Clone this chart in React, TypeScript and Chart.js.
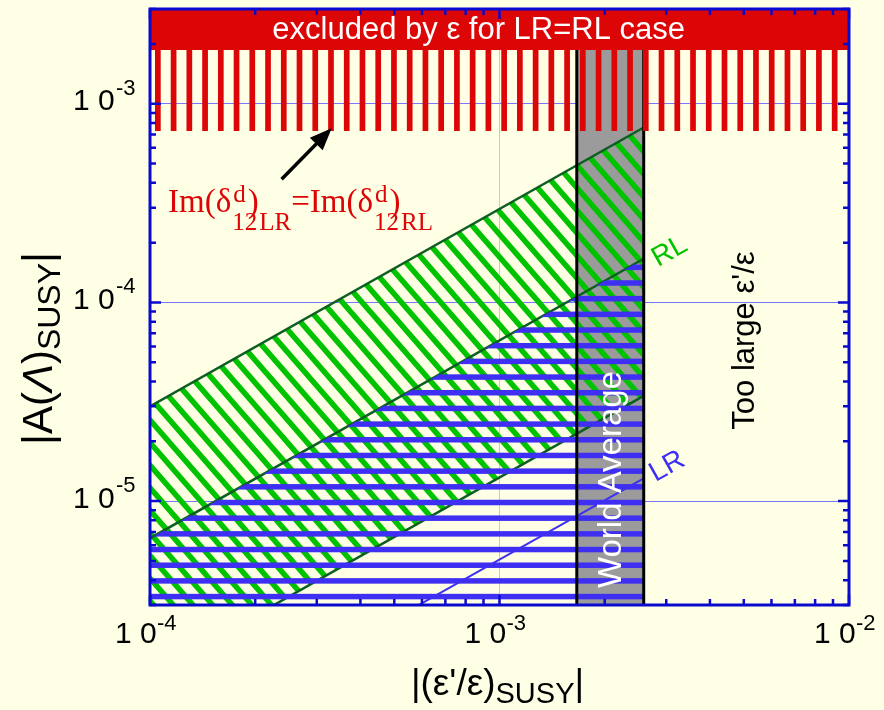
import React, { useEffect, useRef } from 'react';
import { Chart, registerables } from 'chart.js';

Chart.register(...registerables);

const WIDTH = 884;
const HEIGHT = 710;
const PAGE_BG = '#FFFFE6';
const SANS = '"Liberation Sans", Arial, Helvetica, sans-serif';
const SERIF = '"Liberation Serif", "Times New Roman", Times, serif';

const RED = '#DD0606';
const GREEN = '#00C300';
const DARK_GREEN = '#0C5E22';
const BLUE = '#3F2FF2';
const FRAME = '#0A0ACF';
const GRAY = '#9B9B9B';

// axis ranges
const X_MIN = 1e-4;
const X_MAX = 1e-2;
const Y_MIN = 3e-6;
const Y_MAX = 3e-3;
const xLabelValues = [1e-4, 1e-3, 1e-2];
const yLabelValues = [1e-5, 1e-4, 1e-3];

// region excluded by epsilon (solid above, striped below)
const excludedX = [1e-4, 1e-2];
const excludedSolidY = 1.866e-3;
const excludedStripedY = 7.29e-4;

// world average of eps'/eps
const worldAverageX = [1.664e-3, 2.586e-3];

// band edges: |A(Lambda)| at both ends of the x span
const bandX = [1e-4, 2.586e-3];
const rlUpper = [3.0e-5, 7.6e-4];
const rlMiddle = [6.5e-6, 1.66e-4];
const rlLower = [1.33e-6, 3.39e-5];
const lrLine = [5.2e-7, 1.3e-5];

// arrow pointing at the excluded region
const arrowTail = { x: 2.38e-4, y: 4.17e-4 };
const arrowHead = { x: 3.31e-4, y: 7.53e-4 };

// text anchors (data coordinates)
const excludedTextAt = { x: 8.72e-4, y: 2.12e-3 };
const formulaAt = { x: 1.126e-4, y: 2.85e-4 };
const rlLabelAt = { x: 3.07e-3, y: 1.8e-4 };
const lrLabelAt = { x: 3.02e-3, y: 1.49e-5 };
const tooLargeAt = { x: 5.35e-3, y: 6.43e-5 };
const worldAvgAt = { x: 2.227e-3, y: 1.284e-5 };

const isDecade = (v: number) => Math.abs(Math.log10(v) - Math.round(Math.log10(v))) < 1e-9;

function logTicks(min: number, max: number): number[] {
  const out: number[] = [];
  for (let e = Math.floor(Math.log10(min)); e <= Math.ceil(Math.log10(max)); e++) {
    for (let m = 1; m <= 9; m++) {
      const v = m * Math.pow(10, e);
      if (v >= min * (1 - 1e-9) && v <= max * (1 + 1e-9)) out.push(v);
    }
  }
  return out;
}

function makePattern(draw: (c: CanvasRenderingContext2D) => void): CanvasPattern {
  const cv = document.createElement('canvas');
  cv.width = WIDTH;
  cv.height = HEIGHT;
  const c = cv.getContext('2d')!;
  draw(c);
  return c.createPattern(cv, 'repeat')!;
}

type Run = { text: string; font: string; dy: number };

function drawRuns(ctx: CanvasRenderingContext2D, runs: Run[], x: number, y: number, center: boolean) {
  let total = 0;
  for (const r of runs) {
    ctx.font = r.font;
    total += ctx.measureText(r.text).width;
  }
  let cx = center ? x - total / 2 : x;
  ctx.textAlign = 'left';
  for (const r of runs) {
    ctx.font = r.font;
    ctx.fillText(r.text, cx, y + r.dy);
    cx += ctx.measureText(r.text).width;
  }
}

const overlayPlugin = {
  id: 'frameTicksText',
  afterDatasetsDraw(chart: any) {
    const { ctx, chartArea: a } = chart;
    const xs = chart.scales.x;
    const ys = chart.scales.y;
    const P = (p: { x: number; y: number }) => ({ x: xs.getPixelForValue(p.x), y: ys.getPixelForValue(p.y) });

    ctx.save();
    // inward tick marks on all four sides
    ctx.strokeStyle = FRAME;
    ctx.lineWidth = 2.5;
    ctx.beginPath();
    for (const t of xs.ticks) {
      const px = xs.getPixelForValue(t.value);
      const len = isDecade(t.value) ? 10 : 6;
      ctx.moveTo(px, a.bottom);
      ctx.lineTo(px, a.bottom - len);
      ctx.moveTo(px, a.top);
      ctx.lineTo(px, a.top + len);
    }
    for (const t of ys.ticks) {
      const py = ys.getPixelForValue(t.value);
      const len = isDecade(t.value) ? 11 : 6;
      ctx.moveTo(a.left, py);
      ctx.lineTo(a.left + len, py);
      ctx.moveTo(a.right, py);
      ctx.lineTo(a.right - len, py);
    }
    ctx.stroke();
    ctx.lineWidth = 3;
    ctx.strokeRect(a.left, a.top, a.right - a.left, a.bottom - a.top);

    // arrow
    const t0 = P(arrowTail);
    const t1 = P(arrowHead);
    const ang = Math.atan2(t1.y - t0.y, t1.x - t0.x);
    const headLen = 22;
    const headHalf = 9;
    const bx = t1.x - headLen * Math.cos(ang);
    const by = t1.y - headLen * Math.sin(ang);
    ctx.strokeStyle = '#000';
    ctx.fillStyle = '#000';
    ctx.lineWidth = 3.5;
    ctx.beginPath();
    ctx.moveTo(t0.x, t0.y);
    ctx.lineTo(bx + 2 * Math.cos(ang), by + 2 * Math.sin(ang));
    ctx.stroke();
    ctx.beginPath();
    ctx.moveTo(t1.x, t1.y);
    ctx.lineTo(bx - headHalf * Math.sin(ang), by + headHalf * Math.cos(ang));
    ctx.lineTo(bx + headHalf * Math.sin(ang), by - headHalf * Math.cos(ang));
    ctx.closePath();
    ctx.fill();

    ctx.textBaseline = 'alphabetic';

    // banner text
    const ex = P(excludedTextAt);
    ctx.fillStyle = '#FFFFFF';
    ctx.font = `31px ${SANS}`;
    ctx.textAlign = 'center';
    ctx.fillText('excluded by ε for LR=RL case', ex.x, ex.y);

    // Im(delta^d_12)_LR = Im(delta^d_12)_RL
    const f = P(formulaAt);
    ctx.fillStyle = RED;
    ctx.textAlign = 'left';
    const big = `33px ${SERIF}`;
    const sup = `25px ${SERIF}`;
    const sub = `25px ${SERIF}`;
    let cx = f.x;
    const group = (chir: string) => {
      ctx.font = big;
      ctx.fillText('Im(δ', cx, f.y);
      cx += ctx.measureText('Im(δ').width;
      ctx.font = sup;
      ctx.fillText('d', cx + 2, f.y - 10);
      const wd = ctx.measureText('d').width;
      ctx.font = big;
      ctx.fillText(')', cx + 2 + wd + 2, f.y);
      ctx.font = sub;
      ctx.fillText('12', cx + 1, f.y + 18);
      const w12 = ctx.measureText('12').width;
      ctx.fillText(chir, cx + 1 + w12 + 2, f.y + 18);
      cx = cx + 1 + w12 + 2 + ctx.measureText(chir).width;
    };
    group('LR');
    ctx.font = big;
    ctx.fillText('=', cx, f.y);
    cx += ctx.measureText('=').width;
    group('RL');

    // band labels along the slope
    const u0 = P({ x: bandX[0], y: rlUpper[0] });
    const u1 = P({ x: bandX[1], y: rlUpper[1] });
    const slope = Math.atan2(u1.y - u0.y, u1.x - u0.x);
    const drawTilted = (text: string, at: { x: number; y: number }, color: string) => {
      const p = P(at);
      ctx.save();
      ctx.translate(p.x, p.y);
      ctx.rotate(slope);
      ctx.fillStyle = color;
      ctx.font = `28px ${SANS}`;
      ctx.textAlign = 'center';
      ctx.textBaseline = 'middle';
      ctx.fillText(text, 0, 0);
      ctx.restore();
    };
    drawTilted('RL', rlLabelAt, GREEN);
    drawTilted('LR', lrLabelAt, BLUE);

    // vertical texts
    const drawVertical = (text: string, at: { x: number; y: number }, color: string, size: number) => {
      const p = P(at);
      ctx.save();
      ctx.translate(p.x, p.y);
      ctx.rotate(-Math.PI / 2);
      ctx.fillStyle = color;
      ctx.font = `${size}px ${SANS}`;
      ctx.textAlign = 'center';
      ctx.textBaseline = 'alphabetic';
      ctx.fillText(text, 0, 0);
      ctx.restore();
    };
    drawVertical('World Average', worldAvgAt, '#FFFFFF', 33);
    drawVertical("Too large ε'/ε", tooLargeAt, '#000000', 31);

    // tick labels 10^n
    ctx.fillStyle = '#000';
    ctx.textAlign = 'left';
    for (const v of xLabelValues) {
      const px = xs.getPixelForValue(v);
      const e = Math.round(Math.log10(v));
      ctx.font = `30px ${SANS}`;
      ctx.fillText('1 0', px - 35, a.bottom + 38);
      ctx.font = `22px ${SANS}`;
      ctx.fillText(`${e}`, px + 7, a.bottom + 25);
    }
    for (const v of yLabelValues) {
      const py = ys.getPixelForValue(v);
      const e = Math.round(Math.log10(v));
      ctx.font = `30px ${SANS}`;
      ctx.fillText('1 0', a.left - 77, py + 6.5);
      ctx.font = `22px ${SANS}`;
      ctx.fillText(`${e}`, a.left - 34, py - 9);
    }

    // axis titles
    drawRuns(
      ctx,
      [
        { text: "|(ε'/ε)", font: `37px ${SANS}`, dy: 0 },
        { text: 'SUSY', font: `29px ${SANS}`, dy: 8 },
        { text: '|', font: `37px ${SANS}`, dy: 0 },
      ],
      (a.left + a.right) / 2 - 2,
      a.bottom + 90,
      true
    );
    ctx.save();
    ctx.translate(52, 445);
    ctx.rotate(-Math.PI / 2);
    drawRuns(
      ctx,
      [
        { text: '|A(', font: `42px ${SANS}`, dy: 0 },
        { text: 'Λ', font: `italic 42px ${SANS}`, dy: 0 },
        { text: ')', font: `42px ${SANS}`, dy: 0 },
        { text: 'SUSY', font: `32px ${SANS}`, dy: 8 },
        { text: '|', font: `42px ${SANS}`, dy: 0 },
      ],
      0,
      0,
      false
    );
    ctx.restore();
    ctx.restore();
  },
};

export default function App() {
  const ref = useRef<HTMLCanvasElement | null>(null);

  useEffect(() => {
    const canvas = ref.current;
    if (!canvas) return;

    const redStripes = makePattern((c) => {
      c.fillStyle = RED;
      for (let x = 155 - 15.74 * 12; x < WIDTH; x += 15.74) c.fillRect(x, 0, 5.7, HEIGHT);
    });
    const blueStripes = makePattern((c) => {
      c.fillStyle = BLUE;
      for (let y = 267.3 - 15.68 * 20; y < HEIGHT; y += 15.68) c.fillRect(0, y - 2.75, WIDTH, 5.5);
    });
    const greenHatch = makePattern((c) => {
      const s = 1.15;
      c.strokeStyle = GREEN;
      c.lineWidth = 5.5;
      c.beginPath();
      for (let k = -70; k <= 30; k++) {
        const y0 = 420 + 22.6 * k;
        c.moveTo(0, y0 - 150 * s);
        c.lineTo(WIDTH, y0 + (WIDTH - 150) * s);
      }
      c.stroke();
    });

    const pts = (xs: number[], ys: number[]) => xs.map((x, i) => ({ x, y: ys[i] }));
    const base = {
      pointRadius: 0,
      pointHoverRadius: 0,
      tension: 0,
      fill: false as any,
      borderWidth: 0,
      borderColor: 'rgba(0,0,0,0)',
      backgroundColor: 'rgba(0,0,0,0)',
    };

    const chart = new Chart(canvas, {
      type: 'line',
      data: {
        datasets: [
          { ...base, label: 'excluded', data: pts(excludedX, [excludedSolidY, excludedSolidY]), fill: 'end', backgroundColor: RED },
          { ...base, label: 'excluded stripes', data: pts(excludedX, [excludedStripedY, excludedStripedY]), fill: 0, backgroundColor: redStripes },
          { ...base, label: 'WA low', data: pts([worldAverageX[0], worldAverageX[0]], [Y_MIN, excludedSolidY]), borderColor: '#000', borderWidth: 3 },
          { ...base, label: 'WA high', data: pts([worldAverageX[1], worldAverageX[1]], [Y_MIN, excludedSolidY]), borderColor: '#000', borderWidth: 3 },
          { ...base, label: 'LR', data: pts(bandX, lrLine), borderColor: BLUE, borderWidth: 2 },
          { ...base, label: 'LR band', data: pts(bandX, rlMiddle), fill: 'start', backgroundColor: blueStripes },
          { ...base, label: 'RL upper', data: pts(bandX, rlUpper), borderColor: DARK_GREEN, borderWidth: 2.5 },
          { ...base, label: 'RL middle', data: pts(bandX, rlMiddle), borderColor: DARK_GREEN, borderWidth: 2.5 },
          { ...base, label: 'RL lower', data: pts(bandX, rlLower), borderColor: DARK_GREEN, borderWidth: 2.5 },
          { ...base, label: 'RL band', data: pts(bandX, rlUpper), fill: 10, backgroundColor: greenHatch },
          { ...base, label: 'RL band edge', data: pts(bandX, rlLower) },
          { ...base, label: 'World average', data: pts(worldAverageX, [excludedSolidY, excludedSolidY]), fill: 'start', backgroundColor: GRAY },
        ],
      },
      options: {
        responsive: false,
        maintainAspectRatio: false,
        devicePixelRatio: 1,
        animation: false,
        events: [],
        layout: { padding: { left: 0, top: 9, right: WIDTH - 849, bottom: 0 } },
        plugins: { legend: { display: false }, tooltip: { enabled: false } },
        scales: {
          x: {
            type: 'logarithmic',
            min: X_MIN,
            max: X_MAX,
            afterBuildTicks: (s: any) => {
              s.ticks = logTicks(X_MIN, X_MAX).map((value) => ({ value }));
            },
            afterFit: (s: any) => {
              s.height = HEIGHT - 605;
            },
            ticks: { display: false },
            border: { display: false },
            grid: {
              drawTicks: false,
              lineWidth: 1,
              color: (c: any) => (c.tick && isDecade(c.tick.value) ? '#C4C4EE' : 'rgba(0,0,0,0)'),
            },
          },
          y: {
            type: 'logarithmic',
            min: Y_MIN,
            max: Y_MAX,
            afterBuildTicks: (s: any) => {
              s.ticks = logTicks(Y_MIN, Y_MAX).map((value) => ({ value }));
            },
            afterFit: (s: any) => {
              s.width = 150;
            },
            ticks: { display: false },
            border: { display: false },
            grid: {
              drawTicks: false,
              lineWidth: 1,
              color: (c: any) => (c.tick && isDecade(c.tick.value) ? '#7878FF' : 'rgba(0,0,0,0)'),
            },
          },
        },
      },
      plugins: [overlayPlugin],
    } as any);

    return () => chart.destroy();
  }, []);

  return (
    <div style={{ position: 'fixed', left: 0, top: 0, width: WIDTH, height: HEIGHT, background: PAGE_BG }}>
      <canvas ref={ref} width={WIDTH} height={HEIGHT} style={{ display: 'block' }} />
    </div>
  );
}
